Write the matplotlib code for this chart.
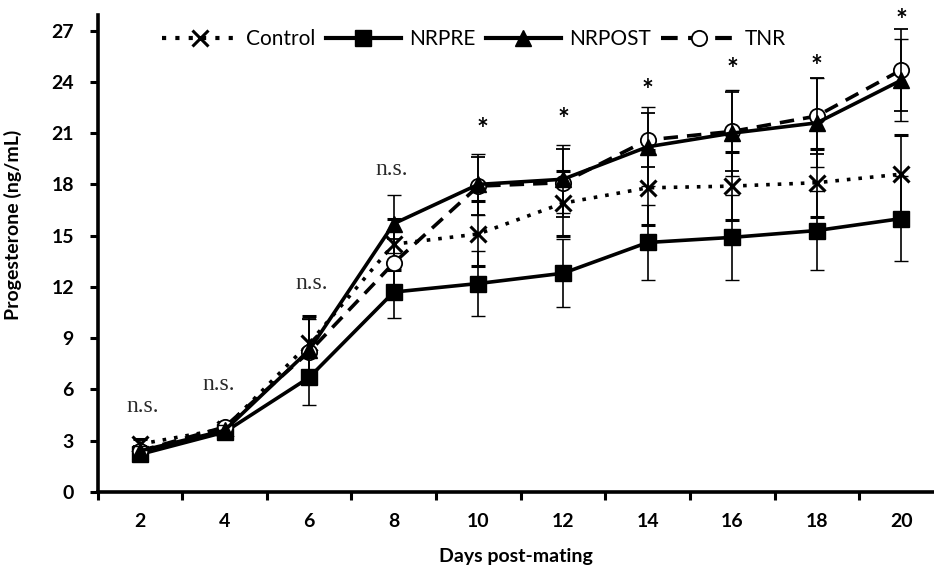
import matplotlib.pyplot as plt
from matplotlib.lines import Line2D

plt.rcParams["font.family"] = ["Lato", "DejaVu Sans"]

days = [2, 4, 6, 8, 10, 12, 14, 16, 18, 20]

control = [2.8, 3.7, 8.7, 14.5, 15.1, 16.9, 17.8, 17.9, 18.1, 18.6]
control_err = [0.3, 0.3, 1.6, 1.5, 1.9, 1.9, 2.2, 2.0, 2.0, 2.3]

nrpre = [2.2, 3.5, 6.7, 11.7, 12.2, 12.8, 14.6, 14.9, 15.3, 16.0]
nrpre_err = [0.3, 0.3, 1.6, 1.5, 1.9, 2.0, 2.2, 2.5, 2.3, 2.5]

nrpost = [2.4, 3.6, 8.3, 15.7, 18.0, 18.3, 20.2, 21.0, 21.6, 24.1]
nrpost_err = [0.3, 0.3, 1.8, 1.7, 1.8, 2.0, 2.3, 2.5, 2.6, 2.4]

tnr = [2.4, 3.8, 8.2, 13.4, 17.9, 18.1, 20.6, 21.1, 22.0, 24.7]
tnr_err = [0.3, 0.3, 1.9, 1.4, 1.7, 2.0, 1.6, 2.3, 2.2, 2.4]

# significance marks
ns_days = [2.07, 3.85, 6.05, 7.95]
ns_y = [5.0, 6.3, 12.2, 18.9]
star_days = [10.1, 12.0, 14.0, 16.0, 18.0, 20.0]
star_y = [21.6, 22.2, 23.9, 25.1, 25.3, 28.0]

fig = plt.figure(figsize=(9.34, 5.85), dpi=100)
ax = fig.add_axes([0.1045, 0.159, 0.8955, 0.815])

err_kw = dict(ecolor="black", elinewidth=1.2, capsize=5, capthick=1.2)

styles = {
    "Control": dict(ls=(0, (1, 2.2)), marker="x", ms=12, mew=2.2, mfc="black"),
    "NRPRE": dict(ls="-", marker="s", ms=11, mew=1, mfc="black"),
    "NRPOST": dict(ls="-", marker="^", ms=11, mew=1, mfc="black"),
    "TNR": dict(ls=(0, (4, 2.5)), marker="o", ms=11, mew=1.3, mfc="white"),
}

ax.errorbar(days, nrpre, yerr=nrpre_err, color="black", lw=2.6, zorder=3,
            **styles["NRPRE"], **err_kw)
ax.errorbar(days, control, yerr=control_err, color="black", lw=2.6, zorder=4,
            **styles["Control"], **err_kw)
ax.errorbar(days, tnr, yerr=tnr_err, color="black", lw=2.6, zorder=5,
            **styles["TNR"], **err_kw)
ax.errorbar(days, nrpost, yerr=nrpost_err, color="black", lw=2.6, zorder=6,
            **styles["NRPOST"], **err_kw)

for d, y in zip(ns_days, ns_y):
    ax.text(d, y, "n.s.", ha="center", va="center", fontsize=17,
            family=["Liberation Serif", "DejaVu Serif"], color="#2a2a2a")
for d, y in zip(star_days, star_y):
    ax.text(d, y - 0.9, "*", ha="center", va="baseline", fontsize=20,
            fontweight="bold", clip_on=False)

ax.set_xlim(1, 20.77)
ax.set_ylim(0, 27.9)
ax.set_yticks(range(0, 28, 3))
ax.set_xticks(days)
ax.set_xticks(range(1, 21, 2), minor=True)

ax.tick_params(axis="x", which="major", length=0, pad=15, labelsize=14)
ax.tick_params(axis="x", which="minor", length=6, width=2.2, direction="out")
ax.tick_params(axis="y", length=6, width=2.2, direction="out", pad=11, labelsize=14)
for lab in ax.get_xticklabels() + ax.get_yticklabels():
    lab.set_fontweight("bold")

for side in ["top", "right"]:
    ax.spines[side].set_visible(False)
for side in ["left", "bottom"]:
    ax.spines[side].set_linewidth(2.6)

ax.set_xlabel("Days post-mating", fontsize=14, fontweight="bold", labelpad=13)
ax.set_ylabel("Progesterone (ng/mL)", fontsize=14, fontweight="bold")
ax.yaxis.set_label_coords(-0.09, 0.56)

names = ["Control", "NRPRE", "NRPOST", "TNR"]
handles = [Line2D([], [], color="black", lw=3, **styles[n]) for n in names]
ax.legend(handles, names, loc="center", bbox_to_anchor=(0.45, 0.95), ncol=4,
          frameon=False, fontsize=15, handlelength=3.6, columnspacing=0.5,
          handletextpad=0.4)

fig.savefig("out.png", dpi=100)
